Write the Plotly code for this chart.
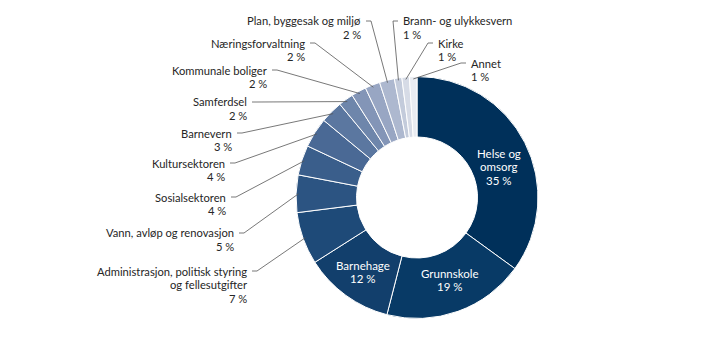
import math
import plotly.graph_objects as go

# ---- data ----
categories = [
    "Helse og omsorg", "Grunnskole", "Barnehage",
    "Administrasjon, politisk styring og fellesutgifter",
    "Vann, avløp og renovasjon", "Sosialsektoren", "Kultursektoren",
    "Barnevern", "Samferdsel", "Kommunale boliger", "Næringsforvaltning",
    "Plan, byggesak og miljø", "Brann- og ulykkesvern", "Kirke", "Annet",
]
shares = [35, 19, 12, 7, 5, 4, 4, 3, 2, 2, 2, 2, 1, 1, 1]
label_lines = [
    ["Helse og", "omsorg"], ["Grunnskole"], ["Barnehage"],
    ["Administrasjon, politisk styring", "og fellesutgifter"],
    ["Vann, avløp og renovasjon"], ["Sosialsektoren"], ["Kultursektoren"],
    ["Barnevern"], ["Samferdsel"], ["Kommunale boliger"], ["Næringsforvaltning"],
    ["Plan, byggesak og miljø"], ["Brann- og ulykkesvern"], ["Kirke"], ["Annet"],
]
colors = [
    "#00305A", "#083A66", "#123F6C", "#1E4A78", "#2C5482", "#3A5E8B",
    "#4A6995", "#5B77A0", "#6E86AB", "#8395B7", "#98A6C3", "#ADB8CF",
    "#C3CBDB", "#D6DBE6", "#E9ECF2",
]

# ---- layout ----
W, H = 719, 341
CX, CY, R = 417, 197.5, 121
HOLE = 0.5
FONT = "Lato"
FS = 11.2
LINE_GAP = 13.5

# inside label placement (pixel centre of first line)
inside_pos = {0: (499, 153), 1: (450, 273), 2: (363, 265)}
# outside label placement: (side, text edge x, first line y)
outside_pos = {
    3: ("L", 248, 271), 4: ("L", 235, 233), 5: ("L", 227, 197),
    6: ("L", 226, 163), 7: ("L", 233, 133), 8: ("L", 248, 102),
    9: ("L", 268, 70), 10: ("L", 306, 43), 11: ("L", 362, 21),
    12: ("R", 402, 21), 13: ("R", 437, 43), 14: ("R", 470, 63),
}


def px(x):
    return x / W


def py(y):
    return 1 - y / H


fig = go.Figure(go.Pie(
    labels=categories, values=shares, sort=False, direction="clockwise",
    rotation=0, hole=HOLE, textinfo="none", hoverinfo="label+value",
    marker=dict(colors=colors, line=dict(color="white", width=1)),
    domain=dict(x=[px(CX - R), px(CX + R)], y=[py(CY + R), py(CY - R)]),
    showlegend=False,
))

annotations = []
shapes = []
total = sum(shares)
cum = 0
for i, v in enumerate(shares):
    mid = (cum + v / 2) / total * 2 * math.pi
    cum += v
    lines = label_lines[i] + [f"{v} %"]
    if i in inside_pos:
        x0, y0 = inside_pos[i]
        for k, t in enumerate(lines):
            annotations.append(dict(
                x=px(x0), y=py(y0 + k * LINE_GAP), xref="paper", yref="paper",
                text=t, showarrow=False, xanchor="center", yanchor="middle",
                font=dict(family=FONT, size=FS + 0.3, color="white")))
        continue
    side, xe, y0 = outside_pos[i]
    for k, t in enumerate(lines):
        annotations.append(dict(
            x=px(xe), y=py(y0 + k * LINE_GAP), xref="paper", yref="paper",
            text=t, showarrow=False,
            xanchor="right" if side == "L" else "left", yanchor="middle",
            borderpad=0,
            font=dict(family=FONT, size=FS, color="#262626")))
    # leader line to slice edge
    ex = CX + R * 0.98 * math.sin(mid)
    ey = CY - R * 0.98 * math.cos(mid)
    if side == "L":
        a, b = xe + 4, xe + 9
    else:
        a, b = xe - 4, xe - 9
    path = f"M {px(a)},{py(y0)} L {px(b)},{py(y0)} L {px(ex)},{py(ey)}"
    shapes.append(dict(type="path", path=path, xref="paper", yref="paper",
                       line=dict(color="#555555", width=0.8)))

fig.update_layout(
    width=W, height=H, autosize=False,
    margin=dict(l=0, r=0, t=0, b=0),
    paper_bgcolor="white", plot_bgcolor="white",
    annotations=annotations, shapes=shapes,
)
fig.write_html("out.html")
